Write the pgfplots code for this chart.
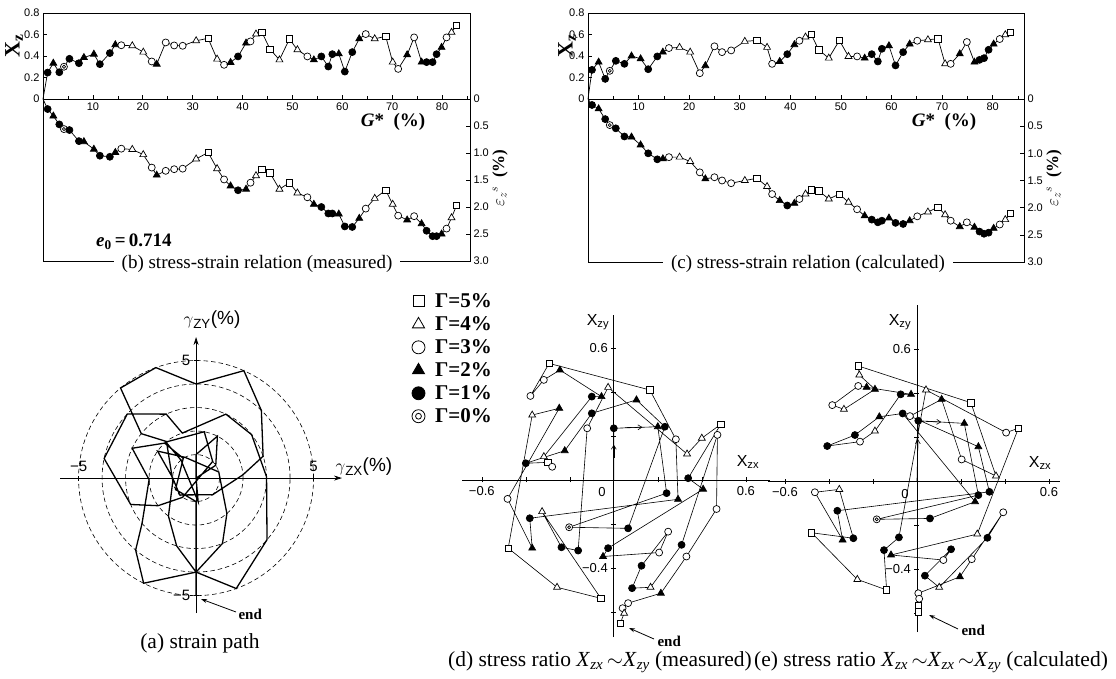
\documentclass[border=0pt]{standalone}
\usepackage{fontspec}
\setmainfont{Liberation Serif}
\setsansfont{Liberation Sans}
\usepackage{pgfplots}
\pgfplotsset{compat=1.18}
\usepackage{pgfplotstable}
\usetikzlibrary{arrows.meta}

\pgfdeclareplotmark{dcirc}{%
 \pgfpathcircle{\pgfpointorigin}{\pgfplotmarksize}\pgfusepathqfillstroke
 \pgfpathcircle{\pgfpointorigin}{0.45\pgfplotmarksize}\pgfusepathqstroke}

\newcommand\X[1]{\textit{X}\textsubscript{\textit{#1}}}

\pgfplotstableread{
G X E T
0 0 0 n
0.93 0.246 0.186 cf
2.07 0.333 0.315 tf
3.27 0.249 0.47 cf
4.2 0.30 0.557 dc
5.3 0.374 0.575 cf
7.2 0.333 0.78 cf
8.2 0.386 0.79 tf
10.2 0.417 0.93 tf
11.4 0.324 1.05 cf
13.4 0.427 1.07 cf
14.5 0.505 0.99 tf
15.7 0.50 0.92 co
17.9 0.495 0.934 to
20.1 0.436 1.03 to
21.8 0.349 1.27 co
22.8 0.324 1.41 tf
24.6 0.526 1.33 co
26.3 0.498 1.30 co
28.0 0.495 1.29 co
30.7 0.542 1.11 to
33.1 0.564 0.99 sq
34.9 0.371 1.29 to
36.3 0.318 1.49 co
37.6 0.34 1.61 tf
39.1 0.396 1.69 cf
40.7 0.52 1.67 tf
41.6 0.536 1.55 co
42.7 0.604 1.42 to
43.9 0.62 1.30 sq
45.5 0.464 1.37 sq
47.4 0.364 1.67 to
49.4 0.558 1.55 sq
51.0 0.458 1.74 to
53.0 0.396 1.82 co
54.3 0.364 1.95 tf
55.8 0.396 2.0 cf
57.2 0.302 2.12 cf
58.0 0.417 2.12 cf
59.3 0.42 2.13 tf
60.5 0.255 2.36 cf
62.0 0.436 2.37 cf
63.4 0.56 2.21 tf
64.7 0.604 2.03 co
66.5 0.56 1.84 to
68.7 0.583 1.69 sq
70.1 0.343 1.95 to
71.2 0.28 2.16 co
73.0 0.411 2.24 tf
74.4 0.573 2.17 co
75.9 0.343 2.31 tf
76.9 0.343 2.44 cf
78.1 0.343 2.54 cf
78.9 0.417 2.54 cf
79.9 0.48 2.50 tf
80.9 0.573 2.40 co
81.9 0.62 2.20 to
82.9 0.685 1.97 sq
}\tabB

\pgfplotstableread{
G X E T
0 0 0 n
0.79 0.271 0.11 cf
2.1 0.343 0.18 tf
3.4 0.187 0.37 cf
4.3 0.262 0.48 dc
5.5 0.355 0.54 cf
7.2 0.327 0.69 cf
8.6 0.40 0.70 tf
10.4 0.374 0.845 tf
11.9 0.277 1.0 cf
13.7 0.396 1.11 cf
14.8 0.436 1.10 tf
16.0 0.474 1.07 co
18.1 0.48 1.07 to
20.2 0.436 1.15 to
22.1 0.24 1.35 co
23.2 0.31 1.47 tf
25.0 0.49 1.44 co
26.5 0.436 1.50 co
28.3 0.452 1.55 co
31.0 0.536 1.50 to
33.4 0.545 1.46 sq
35.4 0.48 1.61 to
36.4 0.327 1.75 co
37.9 0.349 1.87 tf
39.4 0.417 1.96 cf
40.8 0.505 1.92 tf
41.8 0.542 1.84 co
43.0 0.576 1.75 to
44.1 0.604 1.67 sq
45.6 0.458 1.69 sq
47.6 0.38 1.84 to
49.7 0.545 1.75 sq
51.5 0.396 1.90 to
53.2 0.396 2.03 co
54.7 0.38 2.15 tf
56.1 0.417 2.22 cf
57.3 0.349 2.27 cf
58.1 0.467 2.24 cf
59.5 0.495 2.19 tf
60.8 0.312 2.28 cf
62.3 0.436 2.30 cf
63.6 0.511 2.24 tf
65.1 0.542 2.16 co
67.2 0.551 2.08 to
69.2 0.561 1.99 sq
70.6 0.327 2.13 to
71.7 0.327 2.24 co
73.5 0.42 2.35 tf
74.9 0.53 2.27 co
76.4 0.343 2.36 tf
77.4 0.364 2.44 cf
78.3 0.38 2.48 cf
79.2 0.458 2.46 cf
80.2 0.511 2.38 tf
81.4 0.558 2.31 co
82.5 0.598 2.22 to
83.5 0.62 2.11 sq
}\tabC

\pgfplotstableread{
r t
0 0
1 90
2 63
1 33
0 0
1 -85
1 130
2 130
2 80
1 45
1 -125
2 -144
3 -158
4 168
4 137
3 115
2 107
3 65
3 38
3 1
4 -41
5 -70
4 -90
3 -106
2 -126
1 -172
2 129
3 141
4 134
5 130
5 110
4 90
5 66
4 46
3 18
2 4
1 -45
1 -134
1 179
2 145
1 118
1 15
2 -49
3 -68
4 -90
5 -116.5
4 -130
3 -140
2 -178
3 155
2 132
1 123
1 -151
1 -90
2 -90
3 -90
4 -90
5 -90
}\tabA

\pgfplotstableread{
x y T
0 0 n
0.000 0.235 cf
0.200 0.242 tf
0.240 -0.060 cf
-0.203 -0.215 dc
0.065 -0.220 cf
0.232 0.242 cf
0.103 0.364 tf
-0.100 0.303 cf
-0.223 0.133 tf
-0.400 0.076 cf
-0.300 0.080 sq
-0.280 0.060 co
-0.318 0.106 to
-0.100 0.379 cf
-0.056 0.379 tf
-0.245 0.500 tf
-0.318 0.455 co
-0.379 0.382 co
-0.294 0.530 sq
0.164 0.409 sq
0.282 0.185 co
0.292 -0.088 tf
-0.382 -0.174 cf
-0.371 -0.310 tf
-0.483 -0.086 co
-0.248 0.326 tf
-0.371 0.295 to
-0.480 -0.310 sq
-0.258 -0.488 to
-0.059 -0.538 sq
-0.326 -0.144 to
-0.238 -0.306 cf
-0.162 -0.321 cf
-0.121 0.235 co
-0.026 0.421 to
0.333 0.118 to
0.400 0.190 to
0.486 0.253 sq
0.338 0.008 cf
0.406 -0.042 tf
-0.026 -0.310 cf
-0.049 -0.348 tf
0.206 -0.330 co
0.247 -0.235 co
0.126 -0.390 cf
0.083 -0.492 cf
0.167 -0.488 to
0.308 -0.295 cf
0.471 0.205 co
0.467 -0.132 co
0.330 -0.348 co
0.214 -0.515 tf
0.065 -0.560 co
0.040 -0.583 co
0.047 -0.606 to
0.030 -0.651 sq
}\tabD

\pgfplotstableread{
x y T
0 0 n
0.006 0.274 cf
0.215 0.262 tf
0.279 -0.064 cf
-0.183 -0.174 dc
0.059 -0.170 cf
0.264 -0.094 tf
-0.065 0.307 cf
-0.171 0.292 tf
-0.282 0.209 cf
-0.408 0.159 cf
-0.259 0.179 co
-0.191 0.227 to
-0.074 0.394 cf
-0.027 0.394 tf
-0.229 0.426 tf
-0.267 0.432 co
-0.385 0.345 co
-0.332 0.326 to
-0.191 0.417 tf
-0.262 0.482 to
-0.267 0.523 sq
0.245 0.356 sq
0.359 0.023 to
0.203 0.098 co
0.112 0.371 tf
-0.032 0.295 co
0.279 0.156 tf
0.329 -0.049 cf
-0.362 -0.135 cf
-0.338 -0.268 tf
-0.464 -0.051 co
-0.353 -0.038 to
-0.289 -0.260 cf
-0.479 -0.235 sq
-0.271 -0.447 to
-0.138 -0.495 sq
-0.150 -0.314 cf
-0.082 -0.256 cf
0.041 0.414 to
0.405 0.220 co
0.461 0.240 sq
0.274 -0.241 to
-0.118 -0.336 tf
0.120 -0.359 co
0.155 -0.310 cf
0.036 -0.430 cf
0.101 -0.483 to
0.320 -0.258 cf
0.392 -0.142 co
0.249 -0.355 co
0.195 -0.435 tf
0.006 -0.510 co
0.010 -0.535 co
0.005 -0.565 sq
0.005 -0.595 sq
}\tabE

\pgfplotsset{
 fr/.style={scale only axis, anchor=south west, clip=false,
   axis line style={line width=0.7pt},
   tick align=inside, major tick length=4pt, minor tick length=3pt,
   every tick/.style={line width=0.6pt,black},
   tick label style={font=\sffamily\fontsize{11}{11}\selectfont},
   /pgf/number format/assume math mode=true},
 ln/.style={black, line width=0.7pt, mark=none, forget plot},
 mk/.style={scatter, only marks, forget plot, point meta=explicit symbolic,
   skip coords between index={0}{1},
   mark size=3.5pt,
   every mark/.append style={line width=0.7pt, solid},
   scatter/use mapped color={draw=black,fill=black},
   scatter/classes={
     sq={mark=square*,draw=black,fill=white,mark size=3.2pt},
     to={mark=triangle*,draw=black,fill=white,mark size=4.0pt},
     co={mark=*,draw=black,fill=white},
     tf={mark=triangle*,draw=black,fill=black,mark size=4.0pt},
     cf={mark=*,draw=black,fill=black},
     dc={mark=dcirc,draw=black,fill=white},
     n={mark=*,draw=black,fill=black}}},
 sr/.style={scale only axis, anchor=south west, clip=false,
   axis lines=middle, axis line style={line width=0.8pt,-},
   major tick length=5pt,
   every tick/.style={line width=0.6pt,black},
   tick label style={font=\sffamily\fontsize{13}{13}\selectfont},
   xtick={-0.6,-0.4,-0.2,0.2,0.4,0.6}, xticklabels={−0.6,,,,,0.6},
   ytick={-0.6,-0.4,-0.2,0.2,0.4,0.6}, yticklabels={,−0.4,,,,0.6}},
}

\begin{document}
\begin{tikzpicture}
\path[use as bounding box] (0pt,0pt) rectangle (1116pt,678pt);

% ---------- (b) ----------
\begin{axis}[fr, at={(43pt,579pt)}, width=427pt, height=86pt,
  xmin=0, xmax=85.6, ymin=0, ymax=0.8,
  xtick={10,20,...,80}, minor xtick={5,15,...,85},
  ytick={0,0.2,0.4,0.6,0.8}, yticklabels={0,0.2,0.4,0.6,0.8},
  xtick pos=bottom, ytick pos=left]
\addplot[ln] table[x=G,y=X]{\tabB};
\addplot[mk] table[x=G,y=X,meta=T]{\tabB};
\end{axis}
\begin{axis}[fr, at={(43pt,417pt)}, width=427pt, height=162pt,
  xmin=0, xmax=85.6, ymin=0, ymax=3, y dir=reverse, xtick=\empty,
  ytick={0,0.5,...,3}, yticklabels={0,0.5,1.0,1.5,2.0,2.5,3.0},
  ytick pos=right, yticklabel pos=right]
\addplot[ln] table[x=G,y=E]{\tabB};
\addplot[mk] table[x=G,y=E,meta=T]{\tabB};
\end{axis}
\node[rotate=90,font=\bfseries\fontsize{22}{22}\selectfont] at (14pt,632pt) {X\textsubscript{z}};
\node[rotate=90,font=\fontsize{17}{17}\selectfont] at (500pt,500pt) {$\varepsilon_z{}^{s}$\ \ \textbf{(\%)}};
\node[font=\bfseries\fontsize{19}{19}\selectfont] at (393pt,556pt) {\textit{G}*\ \ (\%)};
\node[anchor=west,inner sep=0pt,font=\bfseries\fontsize{19}{19}\selectfont] at (96pt,436pt) {\textit{e}\textsubscript{0}\,=\,0.714};
\node[fill=white,inner xsep=8pt,inner ysep=2pt,font=\fontsize{19}{21}\selectfont] at (257pt,414pt) {(b) stress-strain relation (measured)};

% ---------- (c) ----------
\begin{axis}[fr, at={(588pt,579pt)}, width=436pt, height=86pt,
  xmin=0, xmax=86.2, ymin=0, ymax=0.8,
  xtick={10,20,...,80}, minor xtick={5,15,...,85},
  ytick={0,0.2,0.4,0.6,0.8}, yticklabels={0,0.2,0.4,0.6,0.8},
  xtick pos=bottom, ytick pos=left]
\addplot[ln] table[x=G,y=X]{\tabC};
\addplot[mk] table[x=G,y=X,meta=T]{\tabC};
\end{axis}
\begin{axis}[fr, at={(588pt,416pt)}, width=436pt, height=163pt,
  xmin=0, xmax=86.2, ymin=0, ymax=3, y dir=reverse, xtick=\empty,
  ytick={0,0.5,...,3}, yticklabels={0,0.5,1.0,1.5,2.0,2.5,3.0},
  ytick pos=right, yticklabel pos=right]
\addplot[ln] table[x=G,y=E]{\tabC};
\addplot[mk] table[x=G,y=E,meta=T]{\tabC};
\end{axis}
\node[rotate=90,font=\bfseries\fontsize{22}{22}\selectfont] at (567pt,632pt) {X\textsubscript{z}};
\node[rotate=90,font=\fontsize{17}{17}\selectfont] at (1054pt,500pt) {$\varepsilon_z{}^{s}$\ \ \textbf{(\%)}};
\node[font=\bfseries\fontsize{19}{19}\selectfont] at (944pt,556pt) {\textit{G}*\ \ (\%)};
\node[fill=white,inner xsep=8pt,inner ysep=2pt,font=\fontsize{19}{21}\selectfont] at (808pt,414pt) {(c) stress-strain relation (calculated)};

% ---------- (a) ----------
\begin{axis}[scale only axis, anchor=south west, clip=false,
  at={(60pt,65pt)}, width=282pt, height=276pt,
  xmin=-5.79, xmax=6.21, ymin=-5.74, ymax=6.0,
  axis lines=middle, axis line style={line width=0.8pt,-{Stealth[length=8pt,width=5pt]}},
  xtick={-5,5}, ytick={-5,5}, xticklabels={,}, yticklabels={,},
  major tick length=5pt, every tick/.style={line width=0.7pt,black}]
\draw[line width=0.6pt, dash pattern=on 4.5pt off 3pt] (axis cs:0,0) circle[radius=1];
\draw[line width=0.6pt, dash pattern=on 4.5pt off 3pt] (axis cs:0,0) circle[radius=2];
\draw[line width=0.6pt, dash pattern=on 4.5pt off 3pt] (axis cs:0,0) circle[radius=3];
\draw[line width=0.6pt, dash pattern=on 4.5pt off 3pt] (axis cs:0,0) circle[radius=4];
\draw[line width=0.6pt, dash pattern=on 4.5pt off 3pt] (axis cs:0,0) circle[radius=5];
\addplot[black, line width=1.3pt, mark=none] table[x expr={\thisrow{r}*cos(\thisrow{t})}, y expr={\thisrow{r}*sin(\thisrow{t})}]{\tabA};
\node[anchor=south,font=\sffamily\fontsize{15}{15}\selectfont] at (axis cs:-5,0.12) {−5};
\node[anchor=south,font=\sffamily\fontsize{15}{15}\selectfont] at (axis cs:5,0.12) {5};
\node[anchor=east,font=\sffamily\fontsize{15}{15}\selectfont] at (axis cs:-0.1,5) {5};
\node[anchor=east,font=\sffamily\fontsize{15}{15}\selectfont] at (axis cs:-0.1,-5) {−5};
\end{axis}
\node[font=\sffamily\fontsize{19}{19}\selectfont] at (212pt,358pt) {$\gamma$\textsubscript{ZY}(\%)};
\node[anchor=west,font=\sffamily\fontsize{19}{19}\selectfont] at (332pt,211pt) {$\gamma$\textsubscript{ZX}(\%)};
\draw[line width=0.8pt,-{Stealth[length=6pt,width=4pt]}] (236pt,66pt) -- (201pt,79pt);
\node[anchor=west,font=\bfseries\fontsize{15}{15}\selectfont] at (235pt,64pt) {end};
\node[font=\fontsize{21.5}{23}\selectfont] at (200pt,35pt) {(a) strain path};

% ---------- (d) ----------
\begin{axis}[sr, at={(462pt,41pt)}, width=308pt, height=322pt,
  xmin=-0.69, xmax=0.71, ymin=-0.714, ymax=0.75,
  legend style={at={(-0.163,1.07)}, anchor=north west, draw=none, fill=none,
    font=\bfseries\fontsize{21}{22}\selectfont, row sep=5.5pt,
    nodes={inner sep=1pt},
    cells={anchor=west}, inner sep=0pt}]
\addlegendimage{only marks, mark=square*, mark options={fill=white,draw=black,line width=0.8pt}, mark size=5.5pt}
\addlegendentry{\hspace*{9pt}Γ=5\%}
\addlegendimage{only marks, mark=triangle*, mark options={fill=white,draw=black,line width=0.8pt}, mark size=7pt}
\addlegendentry{\hspace*{9pt}Γ=4\%}
\addlegendimage{only marks, mark=*, mark options={fill=white,draw=black,line width=0.8pt}, mark size=6.5pt}
\addlegendentry{\hspace*{9pt}Γ=3\%}
\addlegendimage{only marks, mark=triangle*, mark options={fill=black,draw=black,line width=0.8pt}, mark size=7pt}
\addlegendentry{\hspace*{9pt}Γ=2\%}
\addlegendimage{only marks, mark=*, mark options={fill=black,draw=black,line width=0.8pt}, mark size=6.5pt}
\addlegendentry{\hspace*{9pt}Γ=1\%}
\addlegendimage{only marks, mark=dcirc, mark options={fill=white,draw=black,line width=0.8pt}, mark size=6.5pt}
\addlegendentry{\hspace*{9pt}Γ=0\%}
\addplot[ln, line width=0.6pt] table[x=x,y=y]{\tabD};
\addplot[mk] table[x=x,y=y,meta=T]{\tabD};
\draw[line width=0.6pt,-{Straight Barb[length=4pt,width=5pt]}] (axis cs:0,0.10) -- (axis cs:0,0.16);
\draw[line width=0.6pt,-{Straight Barb[length=4pt,width=5pt]}] (axis cs:0.05,0.238) -- (axis cs:0.13,0.24);
\end{axis}
\node[font=\sffamily\fontsize{16}{16}\selectfont] at (598pt,356pt) {X\textsubscript{zy}};
\node[font=\sffamily\fontsize{16}{16}\selectfont] at (748pt,216pt) {X\textsubscript{zx}};
\node[font=\sffamily\fontsize{13}{13}\selectfont] at (602pt,186pt) {0};
\draw[line width=0.8pt,-{Stealth[length=6pt,width=4pt]}] (654pt,39pt) -- (629pt,50pt);
\node[anchor=west,font=\bfseries\fontsize{15}{15}\selectfont] at (654pt,37pt) {end};
\node[font=\fontsize{21.5}{23}\selectfont] at (600pt,16pt) {(d) stress ratio \X{zx}$\,\sim$\X{zy} (measured)};

% ---------- (e) ----------
\begin{axis}[sr, at={(768pt,46pt)}, width=292pt, height=327pt,
  xmin=-0.677, xmax=0.65, ymin=-0.686, ymax=0.8]
\addplot[ln, line width=0.6pt] table[x=x,y=y]{\tabE};
\addplot[mk] table[x=x,y=y,meta=T]{\tabE};
\draw[line width=0.6pt,-{Straight Barb[length=4pt,width=5pt]}] (axis cs:0.003,0.12) -- (axis cs:0.004,0.19);
\draw[line width=0.6pt,-{Straight Barb[length=4pt,width=5pt]}] (axis cs:0.04,0.271) -- (axis cs:0.11,0.268);
\end{axis}
\node[font=\sffamily\fontsize{16}{16}\selectfont] at (900pt,356pt) {X\textsubscript{zy}};
\node[font=\sffamily\fontsize{16}{16}\selectfont] at (1040pt,215pt) {X\textsubscript{zx}};
\node[font=\sffamily\fontsize{13}{13}\selectfont] at (905pt,184pt) {0};
\draw[line width=0.8pt,-{Stealth[length=6pt,width=4pt]}] (958pt,49pt) -- (929pt,63pt);
\node[anchor=west,font=\bfseries\fontsize{15}{15}\selectfont] at (958pt,48pt) {end};
\node[font=\fontsize{21.5}{23}\selectfont] at (931pt,16pt) {(e) stress ratio \X{zx}$\,\sim$\X{zx}$\,\sim$\X{zy} (calculated)};
\end{tikzpicture}
\end{document}
